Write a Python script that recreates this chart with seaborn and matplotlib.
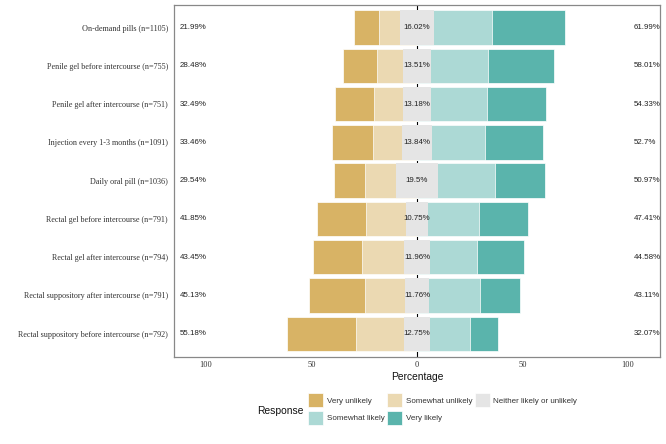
import matplotlib
matplotlib.use("Agg")
import matplotlib.pyplot as plt
from matplotlib.patches import Patch
import seaborn as sns
import pandas as pd

# ---- data ----
categories = [
    "On-demand pills (n=1105)",
    "Penile gel before intercourse (n=755)",
    "Penile gel after intercourse (n=751)",
    "Injection every 1-3 months (n=1091)",
    "Daily oral pill (n=1036)",
    "Rectal gel before intercourse (n=791)",
    "Rectal gel after intercourse (n=794)",
    "Rectal suppository after intercourse (n=791)",
    "Rectal suppository before intercourse (n=792)",
]
very_unlikely     = [12.00, 16.20, 18.75, 19.55, 14.60, 22.90, 23.20, 26.45, 32.70]
somewhat_unlikely = [9.99, 12.28, 13.74, 13.91, 14.94, 18.95, 20.25, 18.68, 22.48]
neither           = [16.02, 13.51, 13.18, 13.84, 19.50, 10.75, 11.96, 11.76, 12.75]
somewhat_likely   = [27.50, 27.00, 26.50, 25.35, 27.30, 23.85, 22.40, 24.15, 18.67]
very_likely       = [34.49, 31.01, 27.83, 27.35, 23.67, 23.56, 22.18, 18.96, 13.40]

levels = ["Very unlikely", "Somewhat unlikely", "Neither likely or unlikely",
          "Somewhat likely", "Very likely"]
colors = ["#D8B365", "#EBD9B2", "#E5E5E5", "#ACD9D5", "#5AB4AC"]
xticks = [-100, -50, 0, 50, 100]
xticklabels = ["100", "50", "0", "50", "100"]

df = pd.DataFrame({
    "item": categories,
    "vu": very_unlikely, "su": somewhat_unlikely, "n": neither,
    "sl": somewhat_likely, "vl": very_likely,
})
df["half"] = df["n"] / 2
df["left_vu"] = -(df["half"] + df["su"] + df["vu"])
df["left_su"] = -(df["half"] + df["su"])
df["left_n"] = -df["half"]
df["right_vl"] = df["half"] + df["sl"] + df["vl"]
df["right_sl"] = df["half"] + df["sl"]
df["right_n"] = df["half"]

sns.set_theme(style="white")
plt.rcParams["font.family"] = ["Liberation Sans", "DejaVu Sans"]

fig = plt.figure(figsize=(6.66, 4.44), dpi=100)
ax = fig.add_axes([174 / 666, 1 - 356.7 / 444, (660 - 174) / 666, (356.7 - 4.7) / 444])

ax.axvline(0, color="black", lw=0.8, zorder=0)

layers = [
    ("left_vu", colors[0], 0.5), ("left_su", colors[1], 0.5), ("left_n", colors[2], 0),
    ("right_vl", colors[4], 0.5), ("right_sl", colors[3], 0.5), ("right_n", colors[2], 0),
]
for col, c, lw in layers:
    sns.barplot(data=df, x=col, y="item", order=categories, orient="h",
                color=c, saturation=1, width=0.9, edgecolor="white",
                linewidth=lw, ax=ax, zorder=2)

# percentage labels
for i in range(len(categories)):
    low = round(very_unlikely[i] + somewhat_unlikely[i], 2)
    high = round(somewhat_likely[i] + very_likely[i], 2)
    ax.text(-112.6, i, f"{low:g}%", ha="left", va="center", fontsize=5.7,
            color="#222222", zorder=5)
    ax.text(0, i, f"{neither[i]:g}%", ha="center", va="center", fontsize=5.7,
            color="#222222", zorder=5)
    ax.text(102.6, i, f"{high:g}%", ha="left", va="center", fontsize=5.7,
            color="#222222", zorder=5, clip_on=False)

ax.set_xlim(-115.2, 115.2)
ax.set_ylim(8.6, -0.6)
ax.set_xticks(xticks)
ax.set_xticklabels(xticklabels, family=["Liberation Serif"], fontsize=6, color="#333333")
ax.set_yticks(range(len(categories)))
ax.set_yticklabels(categories, family=["Liberation Serif"], fontsize=5.9, color="#333333")
ax.tick_params(axis="both", length=0)
ax.tick_params(axis="y", pad=4.3)
ax.tick_params(axis="x", pad=3)
ax.set_ylabel("")
ax.set_xlabel("Percentage", fontsize=7.4, color="#111111", labelpad=2)
for s in ax.spines.values():
    s.set_visible(True)
    s.set_color("#888888")
    s.set_linewidth(0.9)

# legend (row-major order for 3 columns)
handles = [Patch(facecolor=c, edgecolor="white", linewidth=0.5) for c in colors]
order = [0, 3, 1, 4, 2]
leg = fig.legend([handles[k] for k in order], [levels[k] for k in order],
                 loc="upper left", bbox_to_anchor=(308 / 666, 1 - 393.3 / 444),
                 ncol=3, frameon=False, fontsize=5.8, borderpad=0,
                 borderaxespad=0, handlelength=1.9, handleheight=2.3,
                 handletextpad=0.4, columnspacing=0.35, labelspacing=0.45)
for t in leg.get_texts():
    t.set_color("#333333")
fig.text(303 / 666, 1 - 411 / 444, "Response", ha="right", va="center",
         fontsize=7.4, color="#111111")

fig.savefig("out.png", dpi=100)
